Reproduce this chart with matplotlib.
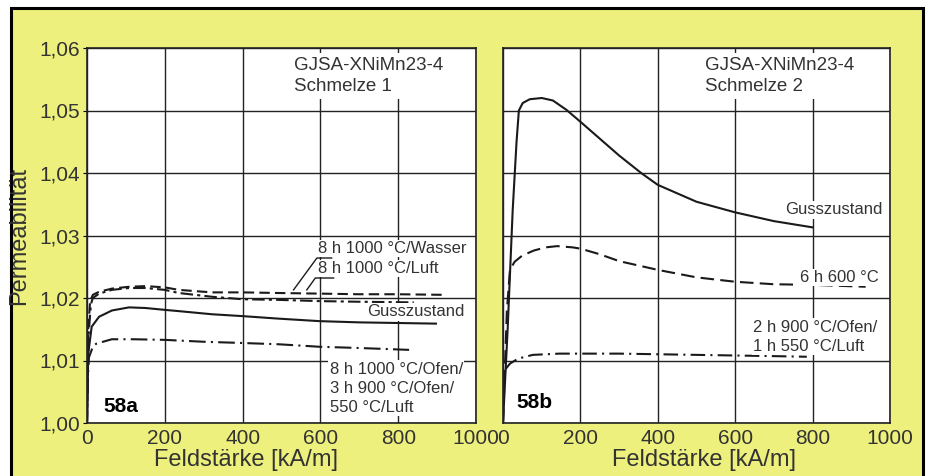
import numpy as np
import matplotlib.pyplot as plt
from matplotlib.patches import Rectangle

plt.rcParams['font.family'] = ['Liberation Sans', 'DejaVu Sans']

# --- Daten ---
x_ticks = [0, 200, 400, 600, 800, 1000]
x_ticklabels = ["0", "200", "400", "600", "800", "1000"]
y_ticks = [1.00, 1.01, 1.02, 1.03, 1.04, 1.05, 1.06]
y_ticklabels = ["1,00", "1,01", "1,02", "1,03", "1,04", "1,05", "1,06"]

# Schmelze 1
guss1_x = [0, 3, 12, 31, 64, 108, 150, 200, 236, 321, 400, 492, 597, 700, 800, 897]
guss1_y = [1.000, 1.011, 1.0154, 1.0170, 1.0180, 1.0185, 1.0184, 1.0181, 1.0179, 1.0174, 1.0171, 1.0167, 1.0163, 1.0161, 1.0160, 1.0159]

wasser_x = [0, 3, 8, 15, 31, 64, 108, 151, 200, 236, 321, 400, 492, 600, 700, 800, 925]
wasser_y = [1.000, 1.015, 1.0195, 1.0205, 1.0210, 1.0215, 1.0218, 1.0219, 1.0217, 1.0213, 1.0209, 1.0209, 1.0208, 1.0207, 1.0206, 1.0206, 1.0205]

luft_x = [0, 4, 10, 15, 31, 64, 108, 151, 200, 236, 321, 400, 492, 600, 700, 840]
luft_y = [1.000, 1.014, 1.019, 1.0200, 1.0207, 1.0213, 1.0216, 1.0216, 1.0213, 1.0208, 1.0202, 1.0198, 1.0197, 1.0195, 1.0194, 1.0193]

ofen_x = [0, 2, 5, 15, 24, 64, 120, 200, 300, 400, 492, 597, 700, 828]
ofen_y = [1.000, 1.007, 1.0105, 1.0122, 1.0127, 1.0134, 1.0134, 1.0133, 1.0130, 1.0128, 1.0126, 1.0122, 1.0120, 1.0117]

# Schmelze 2
guss2_x = [0, 12, 25, 35, 41, 51, 69, 100, 129, 164, 200, 250, 300, 357, 400, 500, 600, 700, 800]
guss2_y = [1.000, 1.015, 1.034, 1.045, 1.0500, 1.0512, 1.0518, 1.0520, 1.0516, 1.0501, 1.0482, 1.0455, 1.0428, 1.0400, 1.0381, 1.0354, 1.0337, 1.0323, 1.0313]

ofen600_x = [0, 10, 18, 30, 50, 80, 110, 140, 180, 200, 250, 300, 400, 500, 600, 700, 800, 937]
ofen600_y = [1.000, 1.018, 1.0245, 1.0258, 1.0268, 1.0276, 1.0281, 1.0283, 1.0281, 1.0279, 1.0270, 1.0259, 1.0245, 1.0233, 1.0226, 1.0222, 1.0221, 1.0218]

luft550_x = [0, 2, 5, 18, 39, 77, 146, 200, 300, 400, 500, 600, 700, 785]
luft550_y = [1.000, 1.006, 1.0085, 1.0095, 1.0103, 1.0109, 1.0111, 1.0111, 1.0111, 1.0110, 1.0109, 1.0108, 1.0107, 1.0106]

# Hinweislinien (Schmelze 1)
lead_wasser_x = [531, 591, 629]
lead_wasser_y = [1.0213, 1.0264, 1.0264]
lead_luft_x = [565, 587, 634]
lead_luft_y = [1.0213, 1.0232, 1.0232]

ink = '#1a1a1a'
txt = '#333333'
yellow = '#EDF07C'

fig = plt.figure(figsize=(9.29, 4.76), dpi=100, facecolor='white')
fig.patches.append(Rectangle((11 / 929, -0.05), 912 / 929, 1.05 - 8 / 476,
                             transform=fig.transFigure, facecolor=yellow,
                             edgecolor='black', linewidth=2.2, zorder=-1))

ax1 = fig.add_axes([87 / 929, 53 / 476, 389 / 929, 375 / 476])
ax2 = fig.add_axes([503 / 929, 53 / 476, 387 / 929, 375 / 476])

for ax in (ax1, ax2):
    ax.set_zorder(2)
    ax.set_facecolor('white')
    ax.set_xlim(0, 1000)
    ax.set_ylim(1.00, 1.06)
    ax.set_xticks(x_ticks)
    ax.set_xticklabels(x_ticklabels)
    ax.set_yticks(y_ticks)
    ax.grid(True, color='#222222', linewidth=1.0)
    ax.set_axisbelow(True)
    for s in ax.spines.values():
        s.set_linewidth(1.2)
        s.set_color('#222222')
    ax.tick_params(axis='x', length=0, pad=4, labelsize=15, labelcolor=txt)
    ax.tick_params(axis='y', length=3, pad=2, labelsize=15, labelcolor=txt)
    ax.set_xlabel("Feldstärke [kA/m]", fontsize=17, color=txt)

ax1.set_yticklabels(y_ticklabels)
ax2.set_yticklabels([])
ax2.tick_params(axis='y', length=0)
ax1.set_ylabel("Permeabilität", fontsize=17, color=txt)
ax1.yaxis.set_label_coords(-0.147, 0.5)
ax1.xaxis.set_label_coords(0.41, -0.07)
ax2.xaxis.set_label_coords(0.52, -0.07)

# Kurven Schmelze 1
ax1.plot(guss1_x, guss1_y, color=ink, lw=1.5)
ax1.plot(wasser_x, wasser_y, color=ink, lw=1.5, linestyle=(0, (5, 2.5)))
ax1.plot(luft_x, luft_y, color=ink, lw=1.5, linestyle=(0, (6, 2, 1.5, 2)))
ax1.plot(ofen_x, ofen_y, color=ink, lw=1.5, linestyle=(0, (8, 2.5, 1, 2.5)))
ax1.plot(lead_wasser_x, lead_wasser_y, color=ink, lw=1.0)
ax1.plot(lead_luft_x, lead_luft_y, color=ink, lw=1.0)

# Kurven Schmelze 2
ax2.plot(guss2_x, guss2_y, color=ink, lw=1.5)
ax2.plot(ofen600_x, ofen600_y, color=ink, lw=1.5, linestyle=(0, (6.5, 3)))
ax2.plot(luft550_x, luft550_y, color=ink, lw=1.5, linestyle=(0, (7, 2.5, 1, 2.5)))

wbox = dict(facecolor='white', edgecolor='none', pad=1.0)
wbox_big = dict(facecolor='white', edgecolor='none', pad=3.0)

ax1.text(532, 1.0555, "GJSA-XNiMn23-4\nSchmelze 1", fontsize=13.5, color=txt,
         va='center', ha='left', linespacing=1.25, bbox=wbox_big)
ax2.text(521, 1.0555, "GJSA-XNiMn23-4\nSchmelze 2", fontsize=13.5, color=txt,
         va='center', ha='left', linespacing=1.25, bbox=wbox_big)

ax1.text(593, 1.0279, "8 h 1000 °C/Wasser", fontsize=12, color=txt, va='center', ha='left', bbox=wbox)
ax1.text(593, 1.0247, "8 h 1000 °C/Luft", fontsize=12, color=txt, va='center', ha='left', bbox=wbox)
ax1.text(720, 1.0178, "Gusszustand", fontsize=12, color=txt, va='center', ha='left', bbox=wbox)
ax1.text(624, 1.0098, "8 h 1000 °C/Ofen/\n3 h 900 °C/Ofen/\n550 °C/Luft", fontsize=12,
         color=txt, va='top', ha='left', linespacing=1.35, bbox=wbox)

ax2.text(730, 1.0341, "Gusszustand", fontsize=12, color=txt, va='center', ha='left', bbox=wbox)
ax2.text(767, 1.0233, "6 h 600 °C", fontsize=12, color=txt, va='center', ha='left', bbox=wbox)
ax2.text(646, 1.0138, "2 h 900 °C/Ofen/\n1 h 550 °C/Luft", fontsize=12, color=txt,
         va='center', ha='left', linespacing=1.35, bbox=wbox)

ax1.text(87, 1.0027, "58a", fontsize=15, fontweight='bold', color='black', va='center', ha='center')
ax2.text(82, 1.0032, "58b", fontsize=15, fontweight='bold', color='black', va='center', ha='center')

fig.savefig("out.png", dpi=100, facecolor=fig.get_facecolor())
